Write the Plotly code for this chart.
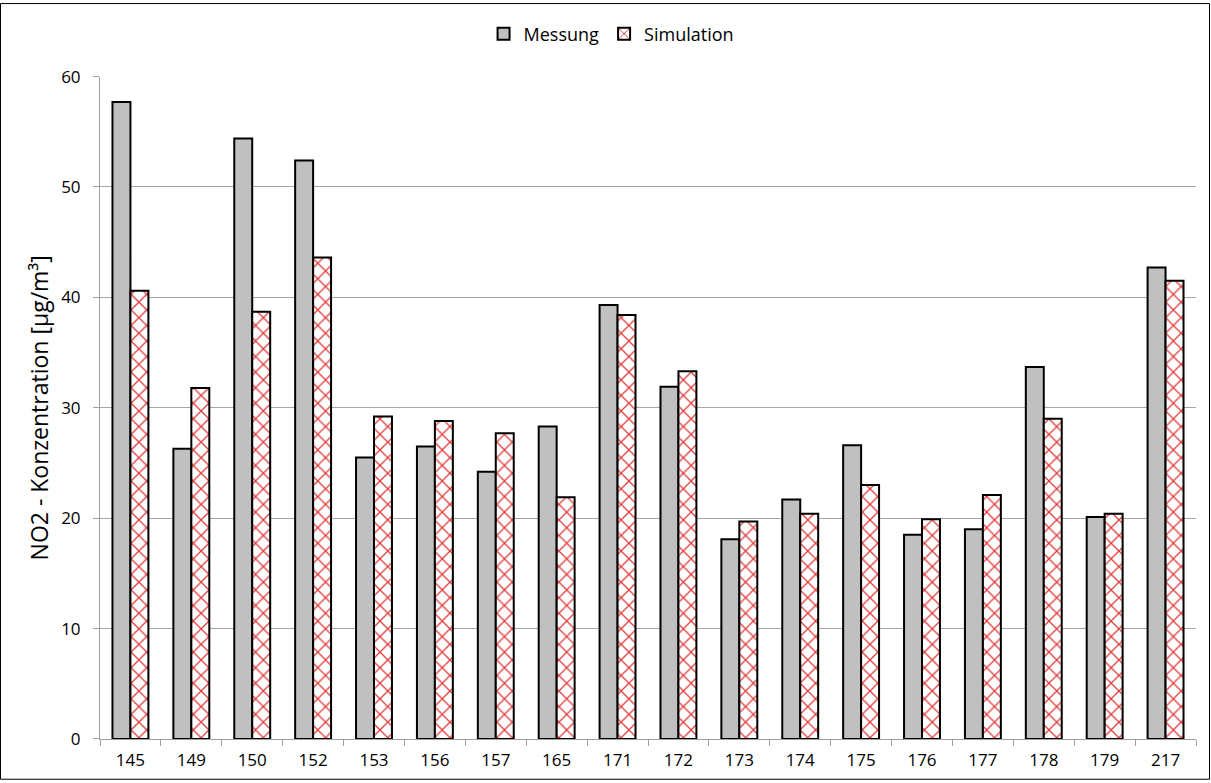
import plotly.graph_objects as go

# Messstellen and NO2 annual means
stations = ["145", "149", "150", "152", "153", "156", "157", "165", "171",
            "172", "173", "174", "175", "176", "177", "178", "179", "217"]
messung = [57.7, 26.3, 54.4, 52.4, 25.5, 26.5, 24.2, 28.3, 39.3,
           31.9, 18.1, 21.7, 26.6, 18.5, 19.0, 33.7, 20.1, 42.7]
simulation = [40.6, 31.8, 38.7, 43.6, 29.2, 28.8, 27.7, 21.9, 38.4,
              33.3, 19.7, 20.4, 23.0, 19.9, 22.1, 29.0, 20.4, 41.5]

W, H = 1211, 783
ML, MR, MT, MB = 100, 15, 74, 42
FONT = "Open Sans"

fig = go.Figure()
fig.add_trace(go.Bar(
    x=stations, y=messung, name="Messung",
    marker=dict(color="#c0c0c0", line=dict(color="black", width=2)),
))
fig.add_trace(go.Bar(
    x=stations, y=simulation, name="Simulation",
    marker=dict(color="white", line=dict(color="black", width=2),
                pattern=dict(shape="x", fgcolor="#e03a3a", bgcolor="white",
                             fgopacity=1, size=11, solidity=0.22)),
))

pw = W - ML - MR
ph = H - MT - MB
fig.add_shape(type="rect", xref="paper", yref="paper",
              x0=-(ML - 0.5) / pw, x1=1 + (MR - 1.5) / pw,
              y0=-(MB - 1.5) / ph, y1=1 + (MT - 0.5) / ph,
              line=dict(color="black", width=1), fillcolor="rgba(0,0,0,0)",
              layer="above")

fig.update_layout(
    width=W, height=H,
    margin=dict(l=ML, r=MR, t=MT, b=MB),
    paper_bgcolor="white", plot_bgcolor="white",
    barmode="group", bargap=0.41, bargroupgap=0,
    font=dict(family=FONT, size=17, color="black"),
    showlegend=True,
    legend=dict(orientation="h", xref="container", yref="container",
                x=0.505, xanchor="center", y=1 - 34 / H, yanchor="middle",
                font=dict(size=18), itemwidth=30, traceorder="normal"),
    xaxis=dict(type="category", showline=True, linecolor="#a0a0a0",
               linewidth=1, ticks="outside", tickson="boundaries",
               ticklen=6, tickcolor="#a0a0a0", showgrid=False,
               ticklabelstandoff=6, tickfont=dict(size=17)),
    yaxis=dict(range=[0, 60], dtick=10, showline=True, linecolor="#a0a0a0",
               linewidth=1, ticks="outside", ticklen=6, tickcolor="#a0a0a0",
               showgrid=True, gridcolor="#a6a6a6", gridwidth=1,
               zeroline=False, tickfont=dict(size=17), ticklabelstandoff=9,
               title=dict(text="NO2 - Konzentration [µg/m³]",
                          font=dict(size=23), standoff=6)),
)

fig.write_html("out.html")
